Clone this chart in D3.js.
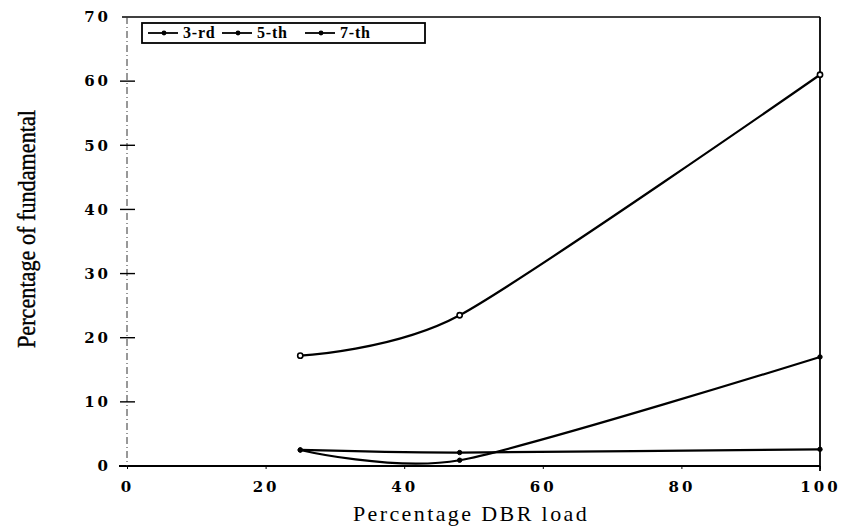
<!DOCTYPE html>
<html>
<head>
<meta charset="utf-8">
<script src="https://cdn.jsdelivr.net/npm/d3@7"></script>
<style>
  html, body { margin: 0; padding: 0; background: #fff; }
  svg { display: block; }
</style>
</head>
<body>
<svg id="chart" width="843" height="527"></svg>
<script>
// Harmonic content vs. DBR load
const loadPct   = [25, 48, 100];
const third     = [17.2, 23.5, 61.0];
const fifth     = [2.5, 0.9, 17.0];
const seventh   = [2.5, 2.1, 2.6];
const seriesNames = ["3-rd", "5-th", "7-th"];
const xTicks = [0, 20, 40, 60, 80, 100];
const yTicks = [0, 10, 20, 30, 40, 50, 60, 70];

const svg = d3.select("#chart");
const x = d3.scaleLinear().domain([0, 100]).range([127, 820]);
const y = d3.scaleLinear().domain([0, 70]).range([466, 17]);

const tickFont = "'DejaVu Serif', serif";

// frame: top rule, right edge, zero line
svg.append("line").attr("x1", x(0) - 5).attr("x2", x(100)).attr("y1", y(70)).attr("y2", y(70))
  .attr("stroke", "#000").attr("stroke-width", 1.6);
svg.append("line").attr("x1", x(100)).attr("x2", x(100)).attr("y1", y(70)).attr("y2", y(0) + 5)
  .attr("stroke", "#000").attr("stroke-width", 1.8);
svg.append("line").attr("x1", x(0) - 8).attr("x2", x(100)).attr("y1", y(0)).attr("y2", y(0))
  .attr("stroke", "#000").attr("stroke-width", 1.8);
// broken left axis
svg.append("line").attr("x1", x(0)).attr("x2", x(0)).attr("y1", y(70)).attr("y2", y(0))
  .attr("stroke", "#333").attr("stroke-width", 1).attr("stroke-dasharray", "7,3,1,3");

// y axis ticks and labels
const yAxis = d3.axisLeft(y).tickValues(yTicks).tickSize(0).tickPadding(16);
const gy = svg.append("g").attr("transform", `translate(${x(0)},0)`).call(yAxis);
gy.select(".domain").remove();
gy.selectAll("text").attr("font-family", tickFont).attr("font-weight", "bold")
  .attr("font-size", 15).attr("letter-spacing", 3).attr("fill", "#000");
svg.append("g").selectAll("line").data(yTicks.filter(d => d > 0 && d < 70)).join("line")
  .attr("x1", x(0) - 7).attr("x2", x(0) + 8).attr("y1", d => y(d)).attr("y2", d => y(d))
  .attr("stroke", "#000").attr("stroke-width", 1.4);

// x axis labels
const xAxis = d3.axisBottom(x).tickValues(xTicks).tickSize(3).tickPadding(12);
const gx = svg.append("g").attr("transform", `translate(0,${y(0)})`).call(xAxis);
gx.select(".domain").remove();
gx.selectAll("line").attr("stroke", "#000");
gx.selectAll("text").attr("font-family", tickFont).attr("font-weight", "bold")
  .attr("font-size", 15).attr("letter-spacing", 3).attr("fill", "#000");

// axis titles
svg.append("text").attr("x", 471).attr("y", 521).attr("text-anchor", "middle")
  .attr("font-family", "'Liberation Serif', serif").attr("font-size", 22)
  .attr("letter-spacing", 2.4).attr("fill", "#000").text("Percentage DBR load");
svg.append("text").attr("transform", "translate(35,229) rotate(-90)").attr("text-anchor", "middle")
  .attr("font-family", "'Liberation Serif', serif").attr("font-size", 25)
  .attr("stroke", "#000").attr("stroke-width", 0.4)
  .attr("textLength", 238).attr("lengthAdjust", "spacingAndGlyphs")
  .attr("fill", "#000").text("Percentage of fundamental");

// series, smoothed with a cardinal spline
const series = [third, fifth, seventh].map((vals, i) => ({
  name: seriesNames[i],
  points: loadPct.map((l, j) => ({ x: l, y: vals[j] }))
}));
const line = d3.line().x(p => x(p.x)).y(p => y(p.y)).curve(d3.curveCardinal.tension(0.25));

svg.append("g").selectAll("path").data(series).join("path")
  .attr("d", d => line(d.points))
  .attr("fill", "none")
  .attr("stroke", "#000").attr("stroke-width", 2.2);

// markers: open circles on the 3rd, solid dots on the others
series.forEach((s, i) => {
  svg.append("g").selectAll("circle").data(s.points).join("circle")
    .attr("cx", d => x(d.x)).attr("cy", d => y(d.y))
    .attr("r", i === 0 ? 2.6 : 2.2)
    .attr("fill", i === 0 ? "#fff" : "#000")
    .attr("stroke", "#000").attr("stroke-width", i === 0 ? 1.6 : 1);
});

// legend
const lg = svg.append("g");
lg.append("rect").attr("x", 142).attr("y", 23).attr("width", 283).attr("height", 20)
  .attr("fill", "#fff").attr("stroke", "#000").attr("stroke-width", 1.8);
const itemX = [148, 222, 305];
seriesNames.forEach((n, i) => {
  const g = lg.append("g").attr("transform", `translate(${itemX[i]},33)`);
  g.append("line").attr("x1", 0).attr("x2", 30).attr("y1", 0).attr("y2", 0)
    .attr("stroke", "#000").attr("stroke-width", 1.8);
  g.append("circle").attr("cx", 16).attr("cy", 0).attr("r", 2.4).attr("fill", "#000");
  g.append("text").attr("x", 35).attr("y", 5).attr("font-family", "'Liberation Serif', serif")
    .attr("font-weight", "bold").attr("font-size", 16).attr("letter-spacing", 0.8)
    .attr("fill", "#000").text(n);
});
</script>
</body>
</html>
